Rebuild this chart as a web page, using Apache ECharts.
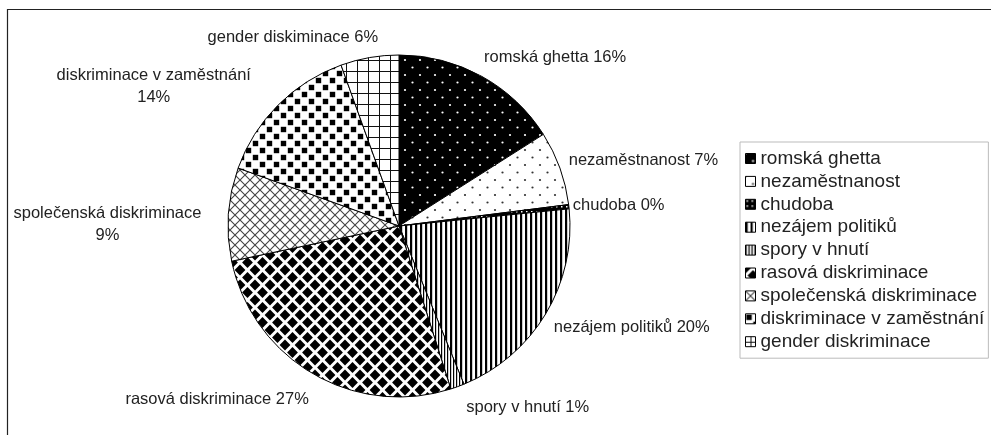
<!DOCTYPE html>
<html style="height: 100%">
<head>
<meta charset="utf-8">
</head>
<body style="height: 100%; margin: 0; background: #fff">
<div id="container" style="width: 991px; height: 435px"></div>
<script type="text/javascript" src="https://cdn.jsdelivr.net/npm/echarts@6/dist/echarts.min.js"></script>
<script type="text/javascript">
var names = ['romská ghetta', 'nezaměstnanost', 'chudoba', 'nezájem politiků', 'spory v hnutí',
    'rasová diskriminace', 'společenská diskriminace', 'diskriminace v zaměstnání', 'gender diskriminace'];
var labelNames = ['romská ghetta', 'nezaměstnanost', 'chudoba', 'nezájem politiků', 'spory v hnutí',
    'rasová diskriminace', 'společenská diskriminace\n', 'diskriminace v zaměstnání\n', 'gender diskiminace'];
var values = [16, 7, 0.4, 20.4, 1.3, 26.6, 8.8, 14, 5.5];

// small nudges [dx, dy] for the outside labels, Excel puts them a bit off the radial line
var labelNudge = [[-7, -1], [-10, -1], [-16, 1], [-9, 3], [2, 2], [6, 8], [-7, 12], [-13, -4], [12, 0]];

// canvas fill patterns, one per slice
function pattern(w, h, draw) {
    var c = document.createElement('canvas');
    c.width = w; c.height = h;
    var ctx = c.getContext('2d');
    draw(ctx, w, h);
    return { image: c, repeat: 'repeat' };
}
function lattice(fn) {
    [[0, 0], [15, 0], [0, 15], [15, 15], [7.5, 7.5]].forEach(function (p) { fn(p[0], p[1]); });
}
var patterns = [
    pattern(15, 15, function (ctx) {           // romská ghetta
        ctx.fillStyle = '#000'; ctx.fillRect(0, 0, 15, 15);
        ctx.fillStyle = '#fff';
        lattice(function (x, y) { ctx.beginPath(); ctx.arc(x, y, 1.1, 0, Math.PI * 2); ctx.fill(); });
    }),
    pattern(15, 15, function (ctx) {           // nezaměstnanost
        ctx.fillStyle = '#fff'; ctx.fillRect(0, 0, 15, 15);
        ctx.fillStyle = '#333';
        lattice(function (x, y) { ctx.beginPath(); ctx.arc(x, y, 1.1, 0, Math.PI * 2); ctx.fill(); });
    }),
    pattern(5, 5, function (ctx) {             // chudoba
        ctx.fillStyle = '#000'; ctx.fillRect(0, 0, 5, 5);
        ctx.fillStyle = '#fff'; ctx.fillRect(1, 1, 1.5, 1.5);
    }),
    pattern(5, 5, function (ctx) {             // nezájem politiků
        ctx.fillStyle = '#fff'; ctx.fillRect(0, 0, 5, 5);
        ctx.fillStyle = '#000'; ctx.fillRect(0, 0, 2.2, 5);
    }),
    pattern(3, 3, function (ctx) {             // spory v hnutí
        ctx.fillStyle = '#fff'; ctx.fillRect(0, 0, 3, 3);
        ctx.fillStyle = '#000'; ctx.fillRect(0, 0, 1.2, 3);
    }),
    pattern(15, 15, function (ctx) {           // rasová diskriminace
        ctx.fillStyle = '#fff'; ctx.fillRect(0, 0, 15, 15);
        ctx.fillStyle = '#000';
        lattice(function (x, y) {
            var r = 5.4;
            ctx.beginPath();
            ctx.moveTo(x, y - r); ctx.lineTo(x + r, y); ctx.lineTo(x, y + r); ctx.lineTo(x - r, y);
            ctx.closePath(); ctx.fill();
        });
    }),
    pattern(10, 10, function (ctx) {           // společenská diskriminace
        ctx.fillStyle = '#fff'; ctx.fillRect(0, 0, 10, 10);
        ctx.strokeStyle = '#444'; ctx.lineWidth = 1.1;
        ctx.beginPath();
        ctx.moveTo(-1, -1); ctx.lineTo(11, 11);
        ctx.moveTo(11, -1); ctx.lineTo(-1, 11);
        ctx.stroke();
    }),
    pattern(14, 14, function (ctx) {           // diskriminace v zaměstnání
        ctx.fillStyle = '#fff'; ctx.fillRect(0, 0, 14, 14);
        ctx.fillStyle = '#000';
        ctx.fillRect(0.8, 0.8, 5.4, 5.4);
        ctx.fillRect(7.8, 7.8, 5.4, 5.4);
    }),
    pattern(11, 11, function (ctx) {           // gender diskriminace
        ctx.fillStyle = '#fff'; ctx.fillRect(0, 0, 11, 11);
        ctx.strokeStyle = '#111'; ctx.lineWidth = 1;
        ctx.beginPath();
        ctx.moveTo(5.5, 0); ctx.lineTo(5.5, 11);
        ctx.moveTo(0, 5.5); ctx.lineTo(11, 5.5);
        ctx.stroke();
    })
];

var dom = document.getElementById('container');
var myChart = echarts.init(dom, null, { renderer: 'canvas' });

var data = names.map(function (n, i) {
    return { name: n, value: values[i], itemStyle: { color: patterns[i] } };
});

var option = {
    animation: false,
    textStyle: { fontFamily: 'Liberation Sans, Arial, sans-serif' },
    graphic: [{
        type: 'rect',
        shape: { x: 7.5, y: 9.5, width: 1100, height: 600 },
        style: { fill: 'none', stroke: '#222', lineWidth: 1.2 },
        silent: true
    }],
    legend: {
        orient: 'vertical',
        left: 740,
        top: 142,
        padding: [7, 4, 7, 5],
        icon: 'rect',
        itemGap: 3.9,
        itemWidth: 10,
        itemHeight: 10,
        itemTextGap: 3,
        itemStyle: { borderColor: '#000', borderWidth: 1 },
        borderColor: '#bbb',
        borderWidth: 1,
        textStyle: { fontSize: 19, lineHeight: 19, color: '#222' },
        data: names
    },
    series: [{
        type: 'pie',
        center: [399, 226],
        radius: [0, 171],
        startAngle: 90,
        clockwise: true,
        avoidLabelOverlap: false,
        itemStyle: { borderColor: '#000', borderWidth: 1 },
        label: {
            show: true,
            position: 'outside',
            fontSize: 16.5,
            color: '#222',
            lineHeight: 22,
            distanceToLabelLine: 0,
            formatter: function (p) {
                var t = labelNames[p.dataIndex];
                return t + (t.indexOf('\n') >= 0 ? '' : ' ') + Math.round(p.percent) + '%';
            }
        },
        labelLine: { show: false, length: 20, length2: 0 },
        labelLayout: function (params) {
            var i = params.dataIndex;
            var res = { dx: labelNudge[i][0], dy: labelNudge[i][1] };
            if (labelNames[i].indexOf('\n') >= 0) {
                // two-line labels are centred like in the source chart
                res.align = 'center';
                res.dx -= params.labelRect.width / 2;
            }
            return res;
        },
        emphasis: { disabled: true },
        data: data
    }]
};
myChart.setOption(option);
</script>
</body>
</html>
